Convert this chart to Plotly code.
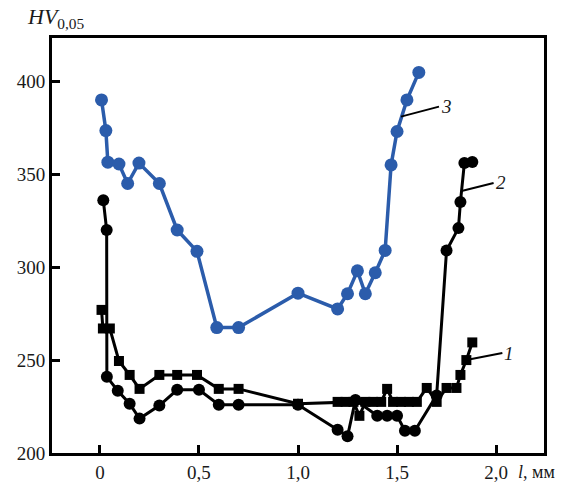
import plotly.graph_objects as go

# Curve 1 (black squares)
x1 = [0.008, 0.015, 0.05, 0.096, 0.15, 0.2, 0.3, 0.39, 0.49, 0.6, 0.7, 1.0,
      1.2, 1.24, 1.28, 1.31, 1.34, 1.38, 1.42, 1.45, 1.48, 1.52, 1.56, 1.6,
      1.65, 1.70, 1.75, 1.80, 1.82, 1.85, 1.88]
y1 = [277, 267, 267, 249.5, 242, 234.5, 242, 242, 242, 234.5, 234.5, 226.5,
      227.5, 227.5, 227.5, 220, 227.5, 227.5, 227.5, 234.5, 227.5, 227.5, 227.5, 227.5,
      235, 227.5, 235, 235, 242, 250, 259.5]

# Curve 2 (black circles)
x2 = [0.017, 0.034, 0.035, 0.09, 0.15, 0.2, 0.3, 0.39, 0.5, 0.6, 0.7, 1.0,
      1.2, 1.25, 1.29, 1.4, 1.45, 1.5, 1.54, 1.59, 1.70, 1.75, 1.81, 1.82, 1.84, 1.88]
y2 = [336, 320, 241, 233.5, 226.5, 218.5, 225.5, 234, 234, 226, 226, 226,
      212.5, 209, 228.5, 220, 220, 220, 212, 212, 231, 309, 321, 335, 356, 356.6]

# Curve 3 (blue circles)
x3 = [0.008, 0.03, 0.04, 0.096, 0.14, 0.197, 0.3, 0.39, 0.49, 0.59, 0.7, 1.0,
      1.2, 1.25, 1.3, 1.34, 1.39, 1.44, 1.47, 1.5, 1.55, 1.61]
y3 = [390, 373.5, 356.5, 355.5, 345, 356, 345, 320, 308.5, 267.5, 267.5, 286,
      277.5, 285.7, 298, 285.7, 297, 309, 355, 373, 390, 404.8]

xticks = [0, 0.5, 1.0, 1.5, 2.0]
xticktext = ["0", "0,5", "1,0", "1,5", "2,0"]
yticks = [200, 250, 300, 350, 400]

BLUE = "#2b5cab"
FONT = "Liberation Serif"
TXT = "#1a1a1a"

fig = go.Figure()
fig.add_trace(go.Scatter(x=x1, y=y1, mode="lines+markers",
                         line=dict(color="black", width=3),
                         marker=dict(symbol="square", size=10, color="black")))
fig.add_trace(go.Scatter(x=x2, y=y2, mode="lines+markers",
                         line=dict(color="black", width=3),
                         marker=dict(symbol="circle", size=12, color="black")))
fig.add_trace(go.Scatter(x=x3, y=y3, mode="lines+markers",
                         line=dict(color=BLUE, width=3.5),
                         marker=dict(symbol="circle", size=13, color=BLUE)))

fig.update_layout(
    width=572, height=495,
    margin=dict(l=52, r=28, t=38, b=35),
    plot_bgcolor="white", paper_bgcolor="white",
    showlegend=False,
    font=dict(family=FONT, size=19, color=TXT),
)
fig.update_xaxes(range=[-0.242, 2.242], tickvals=xticks, ticktext=xticktext,
                 tickfont=dict(family=FONT, size=19, color=TXT),
                 ticks="inside", ticklen=8, tickwidth=2.5, tickcolor="black",
                 showline=True, linewidth=3, linecolor="black", mirror=True,
                 showgrid=False, zeroline=False)
fig.update_yaxes(range=[200, 423.3], tickvals=yticks,
                 tickfont=dict(family=FONT, size=19, color=TXT),
                 ticks="inside", ticklen=8, tickwidth=2.5, tickcolor="black",
                 showline=True, linewidth=3, linecolor="black", mirror=True,
                 showgrid=False, zeroline=False)

# axis titles
fig.add_annotation(xref="paper", yref="paper", x=-0.055, y=1.0, yshift=4,
                   xanchor="left", yanchor="bottom", showarrow=False,
                   text="<i>HV</i><sub>0,05</sub>",
                   font=dict(family=FONT, size=22, color=TXT))
fig.add_annotation(xref="paper", yref="paper", x=1.0, y=0.0, xshift=-28, yshift=-19,
                   xanchor="left", yanchor="middle", showarrow=False,
                   text="<i>l</i>, мм",
                   font=dict(family=FONT, size=18, color=TXT))

# curve labels with leader lines
for lx, ly, txt, ax, ay in [(1.52, 381, "3", 38, -10),
                             (1.826, 341, "2", 32, -8),
                             (1.85, 250, "1", 36, -7)]:
    fig.add_annotation(x=lx, y=ly, text="<i>" + txt + "</i>", showarrow=True,
                       arrowhead=0, arrowwidth=2, arrowcolor="black",
                       ax=ax, ay=ay, xanchor="left", standoff=0,
                       font=dict(family=FONT, size=19, color=TXT))

fig.write_html("out.html")
